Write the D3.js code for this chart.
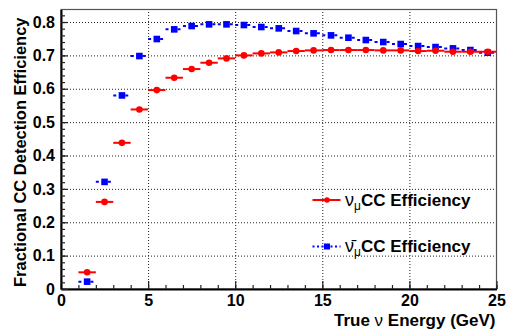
<!DOCTYPE html>
<html>
<head>
<meta charset="utf-8">
<script src="https://cdn.jsdelivr.net/npm/d3@7"></script>
<style>
  body { margin: 0; background: #fff; }
  svg { font-family: "Liberation Sans", Arial, sans-serif; font-weight: bold; }
</style>
</head>
<body>
<div id="chart"></div>
<script>
// energy bins (GeV), 1 GeV wide
const binCenters = [1.5, 2.5, 3.5, 4.5, 5.5, 6.5, 7.5, 8.5, 9.5, 10.5, 11.5, 12.5,
  13.5, 14.5, 15.5, 16.5, 17.5, 18.5, 19.5, 20.5, 21.5, 22.5, 23.5, 24.5];
const binHalfWidth = 0.5;

const numuEff = [0.050, 0.261, 0.438, 0.538, 0.596, 0.633, 0.659, 0.678, 0.691, 0.700,
  0.706, 0.709, 0.713, 0.715, 0.716, 0.716, 0.716, 0.715, 0.715, 0.713, 0.714, 0.711,
  0.711, 0.711];
const numubarEff = [0.022, 0.321, 0.580, 0.698, 0.749, 0.778, 0.788, 0.793, 0.793, 0.791,
  0.785, 0.781, 0.773, 0.766, 0.760, 0.753, 0.746, 0.740, 0.734, 0.728, 0.725, 0.721,
  0.716, 0.708];

const xTicks = [0, 5, 10, 15, 20, 25];
const yTicks = [0, 0.1, 0.2, 0.3, 0.4, 0.5, 0.6, 0.7, 0.8];

const W = 506, H = 329;
const margin = { top: 9.5, right: 9.5, bottom: 40, left: 61 };
const width = W - margin.left - margin.right;
const height = H - margin.top - margin.bottom;

const svg = d3.select("#chart").append("svg")
  .attr("width", W).attr("height", H);

const g = svg.append("g")
  .attr("transform", `translate(${margin.left},${margin.top})`);

const x = d3.scaleLinear().domain([0, 25]).range([0, width]);
const y = d3.scaleLinear().domain([0, 0.8375]).range([height, 0]);

// dotted grid
g.append("g")
  .attr("transform", `translate(0,${height})`)
  .call(d3.axisBottom(x).tickValues(xTicks.slice(1, -1)).tickSize(-height).tickFormat(""))
  .call((s) => s.select(".domain").remove())
  .selectAll("line").attr("stroke", "#222").attr("stroke-dasharray", "1,2");
g.append("g")
  .call(d3.axisLeft(y).tickValues(yTicks.slice(1)).tickSize(-width).tickFormat(""))
  .call((s) => s.select(".domain").remove())
  .selectAll("line").attr("stroke", "#222").attr("stroke-dasharray", "1,2");

// frame (top/right)
g.append("rect")
  .attr("width", width).attr("height", height)
  .attr("fill", "none").attr("stroke", "#555").attr("stroke-width", 1.2);

const numu = binCenters.map((c, i) => ({ c, v: numuEff[i] }));
const numubar = binCenters.map((c, i) => ({ c, v: numubarEff[i] }));

// anti-nu: dashed horizontal bars + squares
g.selectAll(".barBlue").data(numubar).join("line")
  .attr("x1", (d) => x(d.c - binHalfWidth)).attr("x2", (d) => x(d.c + binHalfWidth))
  .attr("y1", (d) => y(d.v)).attr("y2", (d) => y(d.v))
  .attr("stroke", "#0000ff").attr("stroke-width", 2).attr("stroke-dasharray", "3,3");
g.selectAll(".sqBlue").data(numubar).join("rect")
  .attr("x", (d) => x(d.c) - 3.3).attr("y", (d) => y(d.v) - 3.3)
  .attr("width", 6.6).attr("height", 6.6).attr("fill", "#0000ff");

// nu: solid bars + circles
g.selectAll(".barRed").data(numu).join("line")
  .attr("x1", (d) => x(d.c - binHalfWidth)).attr("x2", (d) => x(d.c + binHalfWidth))
  .attr("y1", (d) => y(d.v)).attr("y2", (d) => y(d.v))
  .attr("stroke", "#ff0000").attr("stroke-width", 2);
g.selectAll(".dotRed").data(numu).join("circle")
  .attr("cx", (d) => x(d.c)).attr("cy", (d) => y(d.v))
  .attr("r", 3.3).attr("fill", "#ff0000");

// axes, ticks pointing inward
const xAxis = g.append("g").attr("transform", `translate(0,${height})`)
  .call(d3.axisBottom(x).tickValues(xTicks).tickSize(-8).tickSizeOuter(0).tickPadding(6)
    .tickFormat(d3.format("d")));
g.append("g").attr("transform", `translate(0,${height})`)
  .call(d3.axisBottom(x).tickValues(d3.range(0, 26, 1)).tickSize(-4).tickSizeOuter(0).tickFormat(""))
  .call((s) => s.select(".domain").remove());
const yAxis = g.append("g")
  .call(d3.axisLeft(y).tickValues(yTicks).tickSize(-7).tickSizeOuter(0).tickPadding(6)
    .tickFormat((d) => (d === 0 ? "0" : d3.format(".1f")(d))));
g.append("g")
  .call(d3.axisLeft(y).tickValues(d3.range(0, 0.83, 0.02)).tickSize(-4).tickSizeOuter(0).tickFormat(""))
  .call((s) => s.select(".domain").remove());

[xAxis, yAxis].forEach((a) => {
  a.select(".domain").attr("stroke", "#000").attr("stroke-width", 2);
  a.selectAll("text").attr("font-size", 16).attr("font-weight", "bold")
    .attr("font-family", '"Liberation Sans", Arial, sans-serif').attr("fill", "#000");
});
g.selectAll(".tick line").filter(function () { return !this.getAttribute("stroke-dasharray"); })
  .attr("stroke", "#222").attr("stroke-width", 1.2);

// axis titles
svg.append("text")
  .attr("transform", `translate(25.5,${margin.top + height / 2 + 3}) rotate(-90)`)
  .attr("text-anchor", "middle").attr("font-size", 16.5)
  .text("Fractional CC Detection Efficiency");

const xt = svg.append("text")
  .attr("x", margin.left + width - 1).attr("y", 325.5)
  .attr("text-anchor", "end").attr("font-size", 17);
xt.append("tspan").text("True ");
xt.append("tspan").attr("font-weight", "normal").text("ν");
xt.append("tspan").text(" Energy (GeV)");

// legend
const legend = svg.append("g");
const entries = [
  { label: "ν", color: "#ff0000", ly: 200, dash: null, marker: "circle" },
  { label: "ν̄", color: "#0000ff", ly: 246.5, dash: "2,2.5", marker: "rect" }
];
entries.forEach((e) => {
  legend.append("line")
    .attr("x1", 312.5).attr("x2", 340.5).attr("y1", e.ly).attr("y2", e.ly)
    .attr("stroke", e.color).attr("stroke-width", 2)
    .attr("stroke-dasharray", e.dash);
  if (e.marker === "circle") {
    legend.append("circle").attr("cx", 327).attr("cy", e.ly).attr("r", 2.8).attr("fill", e.color);
  } else {
    legend.append("rect").attr("x", 324).attr("y", e.ly - 3).attr("width", 6).attr("height", 6)
      .attr("fill", e.color);
  }
  const t = legend.append("text").attr("x", 345).attr("y", e.ly + 5.5).attr("font-size", 17);
  t.append("tspan").attr("font-weight", "normal").attr("font-size", 18).text(e.label);
  t.append("tspan").attr("font-weight", "normal").attr("font-size", 12).attr("dy", 4).text("μ");
  t.append("tspan").attr("dy", -4).text("CC Efficiency");
});
</script>
</body>
</html>
